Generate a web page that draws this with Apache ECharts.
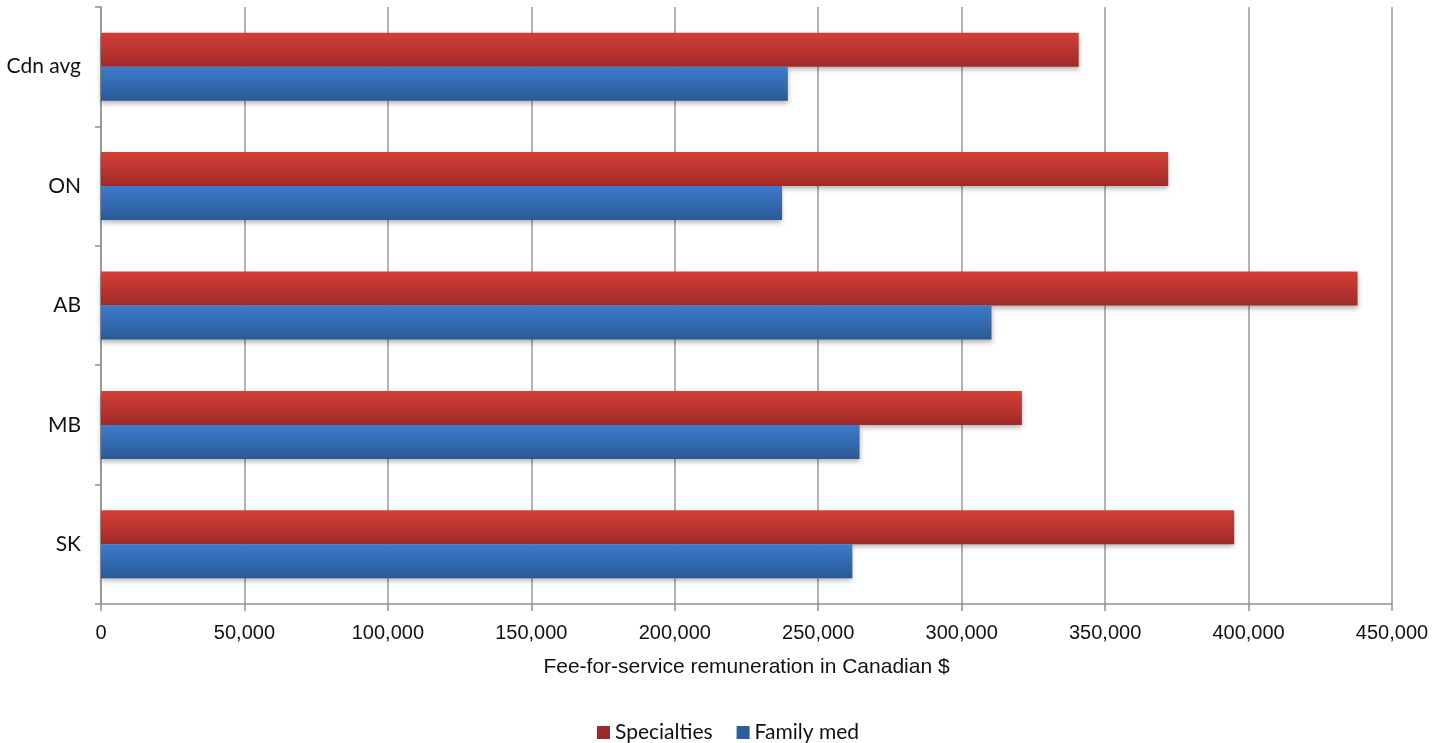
<!DOCTYPE html>
<html>
<head>
<meta charset="utf-8">
<script src="https://cdn.jsdelivr.net/npm/echarts@6/dist/echarts.min.js"></script>
<style>
html, body { margin: 0; padding: 0; background: #fff; }
#chart { width: 1445px; height: 743px; }
</style>
</head>
<body>
<div id="chart"></div>
<script>
var provinces = ['SK', 'MB', 'AB', 'ON', 'Cdn avg'];
var specialties = [395000, 321000, 438000, 372000, 340800];
var familyMed = [261900, 264400, 310400, 237400, 239400];
var xTicks = [0, 50000, 100000, 150000, 200000, 250000, 300000, 350000, 400000, 450000];

var myChart = echarts.init(document.getElementById('chart'));

function grad(top, bottom) {
	return new echarts.graphic.LinearGradient(0, 0, 0, 1, [
		{ offset: 0, color: top },
		{ offset: 1, color: bottom }
	]);
}

var option = {
	animation: false,
	grid: {
		left: 101,
		right: 53,
		top: 7,
		bottom: 139
	},
	legend: {
		data: [
			{ name: 'Specialties', itemStyle: { color: '#9b2b2b' } },
			{ name: 'Family med', itemStyle: { color: '#2c5e9c' } }
		],
		top: 717,
		left: 592,
		itemWidth: 13,
		itemHeight: 13,
		itemGap: 24,
		icon: 'rect',
		textStyle: {
			fontFamily: 'Lato',
			fontSize: 21,
			color: '#111'
		}
	},
	xAxis: {
		type: 'value',
		min: xTicks[0],
		max: xTicks[xTicks.length - 1],
		interval: 50000,
		name: 'Fee-for-service remuneration in Canadian $',
		nameLocation: 'middle',
		nameGap: 53,
		nameTextStyle: {
			fontFamily: 'Liberation Sans',
			fontSize: 21,
			color: '#111'
		},
		axisLine: { show: true, lineStyle: { color: '#909090', width: 1.5 } },
		axisTick: { show: true, length: 7, lineStyle: { color: '#909090', width: 1.5 } },
		axisLabel: {
			margin: 19,
			fontFamily: 'Liberation Sans',
			fontSize: 20,
			color: '#111',
			formatter: function (v) { return v.toLocaleString('en-US'); }
		},
		splitLine: { show: true, lineStyle: { color: '#9a9a9a', width: 1.5 } }
	},
	yAxis: {
		type: 'category',
		data: provinces,
		axisLine: { show: true, lineStyle: { color: '#909090', width: 1.5 } },
		axisTick: { show: true, length: 6, lineStyle: { color: '#909090', width: 1.5 } },
		axisLabel: {
			margin: 20,
			fontFamily: 'Lato',
			fontSize: 21,
			color: '#111'
		}
	},
	series: [
		{
			name: 'Specialties',
			type: 'bar',
			data: specialties,
			barWidth: 34,
			barGap: '0%',
			itemStyle: {
				color: grad('#d43f36', '#a02a28'),
				shadowColor: 'rgba(0,0,0,0.3)',
				shadowBlur: 5,
				shadowOffsetY: 3
			}
		},
		{
			name: 'Family med',
			type: 'bar',
			data: familyMed,
			barWidth: 34,
			barGap: '0%',
			itemStyle: {
				color: grad('#3d7bcc', '#2a5a95'),
				shadowColor: 'rgba(0,0,0,0.3)',
				shadowBlur: 5,
				shadowOffsetY: 3
			}
		}
	]
};

option && myChart.setOption(option);
</script>
</body>
</html>
